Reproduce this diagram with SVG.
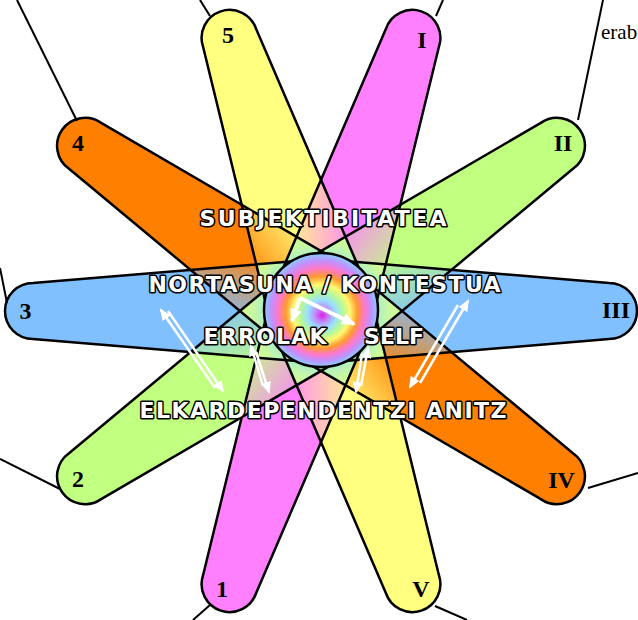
<svg xmlns="http://www.w3.org/2000/svg" width="638" height="620" viewBox="0 0 638 620">
<style>
.outline{fill:none;stroke:#000;stroke-width:2.5;stroke-linejoin:round}
.num{font-family:"Liberation Serif","Times New Roman",serif;font-weight:bold;font-size:24px;fill:#000;text-anchor:middle}
.lbl{font-family:"DejaVu Sans","Liberation Sans",sans-serif;font-weight:bold;font-size:22px;fill:#fff;stroke:#000;stroke-width:3;paint-order:stroke;stroke-linejoin:round;text-anchor:middle}
.conn{stroke:#000;stroke-width:2;fill:none}
.arr{stroke:#fff;stroke-width:2.5;fill:none;marker-end:url(#ah)}
.arrB{stroke:#fff;stroke-width:4;fill:none;marker-end:url(#ahB)}
.erab{font-family:"Liberation Serif","Times New Roman",serif;font-size:21px;fill:#000}
</style>
<defs>
<path id="band" d="M-288,-28 L0,-52 L288,-28 A28,28 0 0 1 288,28 L0,52 L-288,28 A28,28 0 0 1 -288,-28 Z"/>
<clipPath id="cB"><use href="#band" transform="translate(321 311)"/></clipPath>
<clipPath id="cO"><use href="#band" transform="translate(321 311) rotate(35)"/></clipPath>
<clipPath id="cY"><use href="#band" transform="translate(321 311) rotate(71.5)"/></clipPath>
<clipPath id="cP"><use href="#band" transform="translate(321 311) rotate(108.5)"/></clipPath>
<clipPath id="cG"><use href="#band" transform="translate(321 311) rotate(145)"/></clipPath>
<linearGradient id="gBO_r" gradientUnits="userSpaceOnUse" x1="0" y1="-40" x2="0" y2="40"><stop offset="0" stop-color="#80c0ff"/><stop offset="1" stop-color="#ff8000"/></linearGradient>
<linearGradient id="gBO_l" gradientUnits="userSpaceOnUse" x1="0" y1="-40" x2="0" y2="40"><stop offset="0" stop-color="#ff8000"/><stop offset="1" stop-color="#80c0ff"/></linearGradient>
<linearGradient id="gOY_r" gradientUnits="userSpaceOnUse" x1="0" y1="-40" x2="0" y2="40"><stop offset="0" stop-color="#ff8000"/><stop offset="1" stop-color="#ffff80"/></linearGradient>
<linearGradient id="gOY_l" gradientUnits="userSpaceOnUse" x1="0" y1="-40" x2="0" y2="40"><stop offset="0" stop-color="#ffff80"/><stop offset="1" stop-color="#ff8000"/></linearGradient>
<linearGradient id="gYP_r" gradientUnits="userSpaceOnUse" x1="0" y1="-40" x2="0" y2="40"><stop offset="0" stop-color="#ffff80"/><stop offset="1" stop-color="#ff80ff"/></linearGradient>
<linearGradient id="gYP_l" gradientUnits="userSpaceOnUse" x1="0" y1="-40" x2="0" y2="40"><stop offset="0" stop-color="#ff80ff"/><stop offset="1" stop-color="#ffff80"/></linearGradient>
<linearGradient id="gPG_r" gradientUnits="userSpaceOnUse" x1="0" y1="-40" x2="0" y2="40"><stop offset="0" stop-color="#ff80ff"/><stop offset="1" stop-color="#c0ff80"/></linearGradient>
<linearGradient id="gPG_l" gradientUnits="userSpaceOnUse" x1="0" y1="-40" x2="0" y2="40"><stop offset="0" stop-color="#c0ff80"/><stop offset="1" stop-color="#ff80ff"/></linearGradient>
<linearGradient id="gGB_r" gradientUnits="userSpaceOnUse" x1="0" y1="-40" x2="0" y2="40"><stop offset="0" stop-color="#c0ff80"/><stop offset="1" stop-color="#80c0ff"/></linearGradient>
<linearGradient id="gGB_l" gradientUnits="userSpaceOnUse" x1="0" y1="-40" x2="0" y2="40"><stop offset="0" stop-color="#80c0ff"/><stop offset="1" stop-color="#c0ff80"/></linearGradient>
<radialGradient id="gInner" gradientUnits="userSpaceOnUse" cx="0" cy="0" r="110"><stop offset="0.45" stop-color="#a0e8e0"/><stop offset="0.62" stop-color="#c8f8a0"/><stop offset="0.82" stop-color="#e8ff88"/><stop offset="1" stop-color="#fff888"/></radialGradient>
<radialGradient id="gC" cx="0.5" cy="0.5" r="0.5" fx="0.51" fy="0.55"><stop offset="0" stop-color="#e020e8"/><stop offset="0.12" stop-color="#c088f8"/><stop offset="0.25" stop-color="#98e0ff"/><stop offset="0.38" stop-color="#b8f898"/><stop offset="0.5" stop-color="#fff870"/><stop offset="0.63" stop-color="#ff9a30"/><stop offset="0.76" stop-color="#ff78c8"/><stop offset="0.88" stop-color="#c090ff"/><stop offset="1" stop-color="#88d0ff"/></radialGradient>
<marker id="ah" viewBox="0 0 12 10" refX="10" refY="5" markerWidth="12" markerHeight="10" markerUnits="userSpaceOnUse" orient="auto"><path d="M0,0 L12,5 L0,10 Z" fill="#fff"/></marker>
<marker id="ahB" viewBox="0 0 14 12" refX="12" refY="6" markerWidth="14" markerHeight="12" markerUnits="userSpaceOnUse" orient="auto"><path d="M0,0 L14,6 L0,12 Z" fill="#fff"/></marker>
</defs>

<g id="band-3-III"><use href="#band" transform="translate(321 311)" fill="#80c0ff"/><text class="num" x="25.5" y="319">3</text><text class="num" x="616" y="318">III</text></g>
<g id="band-4-IV"><use href="#band" transform="translate(321 311) rotate(35)" fill="#ff8000"/><text class="num" x="78" y="151">4</text><text class="num" x="561.5" y="488">IV</text></g>
<g id="band-5-V"><use href="#band" transform="translate(321 311) rotate(71.5)" fill="#ffff80"/><text class="num" x="228" y="43">5</text><text class="num" x="421" y="597">V</text></g>
<g id="band-1-I"><use href="#band" transform="translate(321 311) rotate(108.5)" fill="#ff80ff"/><text class="num" x="222" y="597">1</text><text class="num" x="422" y="48">I</text></g>
<g id="band-2-II"><use href="#band" transform="translate(321 311) rotate(145)" fill="#c0ff80"/><text class="num" x="78" y="487">2</text><text class="num" x="563" y="151">II</text></g>

<g id="overlaps">
<g clip-path="url(#cB)"><g clip-path="url(#cO)"><g transform="translate(321 311) rotate(17.5)"><rect x="0" y="-200" width="220" height="400" fill="url(#gBO_r)"/><rect x="-220" y="-200" width="220" height="400" fill="url(#gBO_l)"/></g></g></g>
<g clip-path="url(#cO)"><g clip-path="url(#cY)"><g transform="translate(321 311) rotate(53.25)"><rect x="0" y="-200" width="220" height="400" fill="url(#gOY_r)"/><rect x="-220" y="-200" width="220" height="400" fill="url(#gOY_l)"/></g></g></g>
<g clip-path="url(#cY)"><g clip-path="url(#cP)"><g transform="translate(321 311) rotate(90)"><rect x="0" y="-200" width="220" height="400" fill="url(#gYP_r)"/><rect x="-220" y="-200" width="220" height="400" fill="url(#gYP_l)"/></g></g></g>
<g clip-path="url(#cP)"><g clip-path="url(#cG)"><g transform="translate(321 311) rotate(126.75)"><rect x="0" y="-200" width="220" height="400" fill="url(#gPG_r)"/><rect x="-220" y="-200" width="220" height="400" fill="url(#gPG_l)"/></g></g></g>
<g clip-path="url(#cG)"><g clip-path="url(#cB)"><g transform="translate(321 311) rotate(162.5)"><rect x="0" y="-200" width="220" height="400" fill="url(#gGB_r)"/><rect x="-220" y="-200" width="220" height="400" fill="url(#gGB_l)"/></g></g></g>
<g clip-path="url(#cB)"><use href="#band" transform="translate(321 311) rotate(71.5)" fill="url(#gInner)"/></g>
<g clip-path="url(#cB)"><use href="#band" transform="translate(321 311) rotate(108.5)" fill="url(#gInner)"/></g>
<g clip-path="url(#cO)"><use href="#band" transform="translate(321 311) rotate(108.5)" fill="url(#gInner)"/></g>
<g clip-path="url(#cO)"><use href="#band" transform="translate(321 311) rotate(145)" fill="url(#gInner)"/></g>
<g clip-path="url(#cY)"><use href="#band" transform="translate(321 311) rotate(145)" fill="url(#gInner)"/></g>
</g>

<g id="outlines">
<use href="#band" class="outline" transform="translate(321 311)"/>
<use href="#band" class="outline" transform="translate(321 311) rotate(35)"/>
<use href="#band" class="outline" transform="translate(321 311) rotate(71.5)"/>
<use href="#band" class="outline" transform="translate(321 311) rotate(108.5)"/>
<use href="#band" class="outline" transform="translate(321 311) rotate(145)"/>
</g>

<g id="center"><circle cx="321" cy="310" r="57" fill="url(#gC)" stroke="#000" stroke-width="2.5"/></g>

<g id="labels">
<text class="lbl" x="323" y="226" textLength="247" lengthAdjust="spacing">SUBJEKTIBITATEA</text>
<text class="lbl" x="324.5" y="292" textLength="352" lengthAdjust="spacing">NORTASUNA / KONTESTUA</text>
<text class="lbl" x="265" y="344" textLength="123" lengthAdjust="spacing">ERROLAK</text>
<text class="lbl" x="394" y="344" textLength="60" lengthAdjust="spacing">SELF</text>
<text class="lbl" x="323" y="418" textLength="367" lengthAdjust="spacing">ELKARDEPENDENTZI ANITZ</text>
</g>

<g id="arrows">
<line class="arr" x1="215" y1="388" x2="161" y2="310"/>
<line class="arr" x1="168" y1="311" x2="223" y2="391"/>
<line class="arr" x1="263" y1="386" x2="251" y2="346"/>
<line class="arr" x1="256" y1="352" x2="269" y2="392"/>
<line class="arr" x1="361" y1="386" x2="368" y2="348"/>
<line class="arr" x1="362" y1="354" x2="356" y2="392"/>
<line class="arr" x1="420" y1="383" x2="468" y2="301"/>
<line class="arr" x1="458" y1="305" x2="410" y2="387"/>
<line class="arrB" x1="300" y1="298" x2="292" y2="321"/>
<line class="arrB" x1="300" y1="298" x2="354" y2="324"/>
</g>

<g id="connectors">
<line class="conn" x1="17" y1="0" x2="77" y2="121"/>
<line class="conn" x1="603" y1="0" x2="578" y2="120"/>
<line class="conn" x1="0" y1="268" x2="7" y2="303"/>
<line class="conn" x1="0" y1="459" x2="60" y2="489"/>
<line class="conn" x1="588" y1="488" x2="638" y2="473"/>
<line class="conn" x1="210" y1="605" x2="193" y2="620"/>
<line class="conn" x1="435" y1="606" x2="467" y2="620"/>
<line class="conn" x1="210" y1="16" x2="200" y2="0"/>
<line class="conn" x1="436" y1="16" x2="443" y2="0"/>
</g>
<text class="erab" x="601" y="39">erab</text>
</svg>
